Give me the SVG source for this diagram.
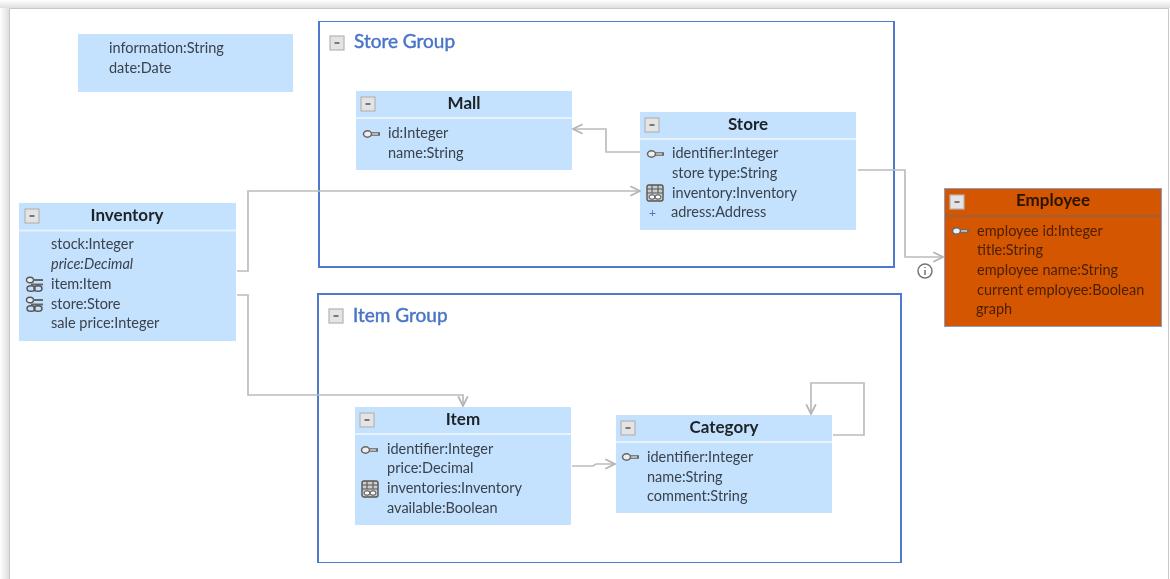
<svg xmlns="http://www.w3.org/2000/svg" width="1170" height="579" viewBox="0 0 1170 579">
<style>
text{font-family:Lato,"Open Sans","Liberation Sans",sans-serif;font-size:14.5px;fill:#3a424c}
.t{font-size:17px;font-weight:700;fill:#1e2328;text-anchor:middle}
.g{font-size:19px;fill:#4a74c8;stroke:#4a74c8;stroke-width:.45}
.n{fill:#c4e1fd}
.sep{stroke:#e6f2fe;stroke-width:2;fill:none}
.grp{fill:#fff;stroke:#5079cc;stroke-width:2}
.c{fill:none;stroke:#bcbcbc;stroke-width:1.7}
.e text{fill:#4a2000}
.e .t{fill:#2a1200}
</style>
<defs>
<marker id="a" viewBox="0 0 10 10" refX="9" refY="5" markerWidth="12" markerHeight="12" markerUnits="userSpaceOnUse" orient="auto"><path d="M1 1L9 5L1 9" fill="none" stroke="#b4b4b4" stroke-width="1.5"/></marker>
<linearGradient id="sl" x1="0" x2="1" y1="0" y2="0"><stop offset="0" stop-color="#fff"/><stop offset="1" stop-color="#dedede"/></linearGradient>
<linearGradient id="st" x1="0" x2="0" y1="0" y2="1"><stop offset="0" stop-color="#fff"/><stop offset="1" stop-color="#dedede"/></linearGradient>
<g id="m"><rect x="0" y="0" width="14" height="14" fill="#e4e4e4" stroke="#b5b5b5" stroke-width="1.2"/><path d="M4.500 7H9.500" stroke="#555" stroke-width="1.5"/></g>
<g id="k"><path d="M7 0H17" stroke="#6a6a6a" stroke-width="3.600"/><path d="M7 0H15" stroke="#e8e8e8" stroke-width="1.200"/><ellipse cx="4.500" cy="0" rx="4" ry="3.200" fill="#eee" stroke="#666" stroke-width="1.500"/></g>
<g id="kk"><ellipse cx="4" cy="-5" rx="3.500" ry="2.800" fill="#eee" stroke="#555" stroke-width="1.400"/><path d="M7 -5H17M5 -.5H17" stroke="#666" stroke-width="1.800"/><ellipse cx="5" cy="3.500" rx="4" ry="2.800" fill="none" stroke="#555" stroke-width="1.500"/><ellipse cx="12" cy="3.500" rx="4" ry="2.800" fill="none" stroke="#555" stroke-width="1.500"/></g>
<g id="tb"><rect x="0" y="-8" width="16" height="16" rx="2" fill="#ccc" stroke="#555" stroke-width="1.400"/><path d="M0 -4H16M5 -8V0M11 -8V0M0 0H16" stroke="#555" stroke-width="1.100"/><ellipse cx="5" cy="4" rx="3" ry="2.200" fill="#fff" stroke="#444"/><ellipse cx="11" cy="4" rx="3" ry="2.200" fill="#fff" stroke="#444"/></g>
<filter id="b" x="0" y="0" width="100%" height="100%"><feGaussianBlur stdDeviation="0.6"/></filter>
</defs>
<rect width="1170" height="579" fill="#fff"/>
<rect x="0" y="0" width="9" height="579" fill="url(#sl)"/>
<rect x="0" y="0" width="1170" height="8" fill="url(#st)"/>
<path d="M9.500 579V8.500H1168.500V579" fill="none" stroke="#c8c8c8"/>
<g filter="url(#b)">
<g id="store-group"><rect class="grp" x="319" y="21" width="575" height="246"/><use href="#m" x="330" y="36"/><text class="g" x="354" y="48">Store Group</text></g>
<g id="item-group"><rect class="grp" x="318" y="294" width="583" height="269"/><use href="#m" x="329" y="309"/><text class="g" x="353" y="322">Item Group</text></g>
<g id="note"><rect class="n" x="78" y="34" width="215" height="58"/><text x="109" y="53">information:String</text><text x="109" y="73">date:Date</text></g>
<g id="mall"><rect class="n" x="356" y="91" width="216" height="79"/><path class="sep" d="M356 118H572"/><use href="#m" x="361" y="97"/><text class="t" x="464" y="109">Mall</text><use href="#k" x="363" y="134"/><text x="388" y="138">id:Integer</text><text x="388" y="158">name:String</text></g>
<g id="store"><rect class="n" x="640" y="112" width="216" height="118"/><path class="sep" d="M640 139H856"/><use href="#m" x="645" y="118"/><text class="t" x="748" y="130">Store</text><use href="#k" x="647" y="154"/><text x="672" y="158">identifier:Integer</text><text x="672" y="178">store type:String</text><use href="#tb" x="647" y="193"/><text x="672" y="198">inventory:Inventory</text><text x="649" y="217" style="font-size:12px;fill:#4a74c4">+</text><text x="671" y="217">adress:Address</text></g>
<g id="inventory"><rect class="n" x="19" y="203" width="217" height="138"/><path class="sep" d="M19 230.500H236"/><use href="#m" x="25" y="209"/><text class="t" x="127" y="221">Inventory</text><text x="51" y="249">stock:Integer</text><text x="51" y="269" font-style="italic">price:Decimal</text><use href="#kk" x="26" y="285"/><text x="51" y="289">item:Item</text><use href="#kk" x="26" y="305"/><text x="51" y="309">store:Store</text><text x="51" y="328">sale price:Integer</text></g>
<g id="employee" class="e"><rect x="944.500" y="188.500" width="217" height="138" fill="#d55600" stroke="#8a9cc4"/><path d="M945 216H1161" stroke="#a0603a" stroke-width="2"/><use href="#m" x="950" y="195"/><text class="t" x="1053" y="206">Employee</text><use href="#k" x="952" y="231"/><text x="977" y="236">employee id:Integer</text><text x="977" y="255">title:String</text><text x="977" y="275">employee name:String</text><text x="977" y="295">current employee:Boolean</text><text x="976" y="314">graph</text></g>
<g id="item"><rect class="n" x="355" y="407" width="216" height="118"/><path class="sep" d="M355 434H571"/><use href="#m" x="360" y="413"/><text class="t" x="463" y="425">Item</text><use href="#k" x="361" y="450"/><text x="387" y="454">identifier:Integer</text><text x="387" y="473">price:Decimal</text><use href="#tb" x="362" y="489"/><text x="387" y="493">inventories:Inventory</text><text x="387" y="513">available:Boolean</text></g>
<g id="category"><rect class="n" x="616" y="415" width="216" height="98"/><path class="sep" d="M616 442H832"/><use href="#m" x="621" y="421"/><text class="t" x="724" y="433">Category</text><use href="#k" x="622" y="457"/><text x="647" y="462">identifier:Integer</text><text x="647" y="482">name:String</text><text x="647" y="501">comment:String</text></g>
<g id="connectors">
<path class="c" d="M237 271H248V191H640" marker-end="url(#a)"/>
<path class="c" d="M237 295H248V395H463V406" marker-end="url(#a)"/>
<path class="c" d="M640 152H606V129H573" marker-end="url(#a)"/>
<path class="c" d="M858 170H905V257H943" marker-end="url(#a)"/>
<path class="c" d="M572 466H593L596 464H615" marker-end="url(#a)"/>
<path class="c" d="M833 435H864V383H811V414" marker-end="url(#a)"/>
</g>
<g id="info"><circle cx="925" cy="271" r="7" fill="#fff" stroke="#777" stroke-width="1.5"/><path d="M925 270V275M925 267V268" stroke="#666" stroke-width="1.4"/></g>
</g>
</svg>
